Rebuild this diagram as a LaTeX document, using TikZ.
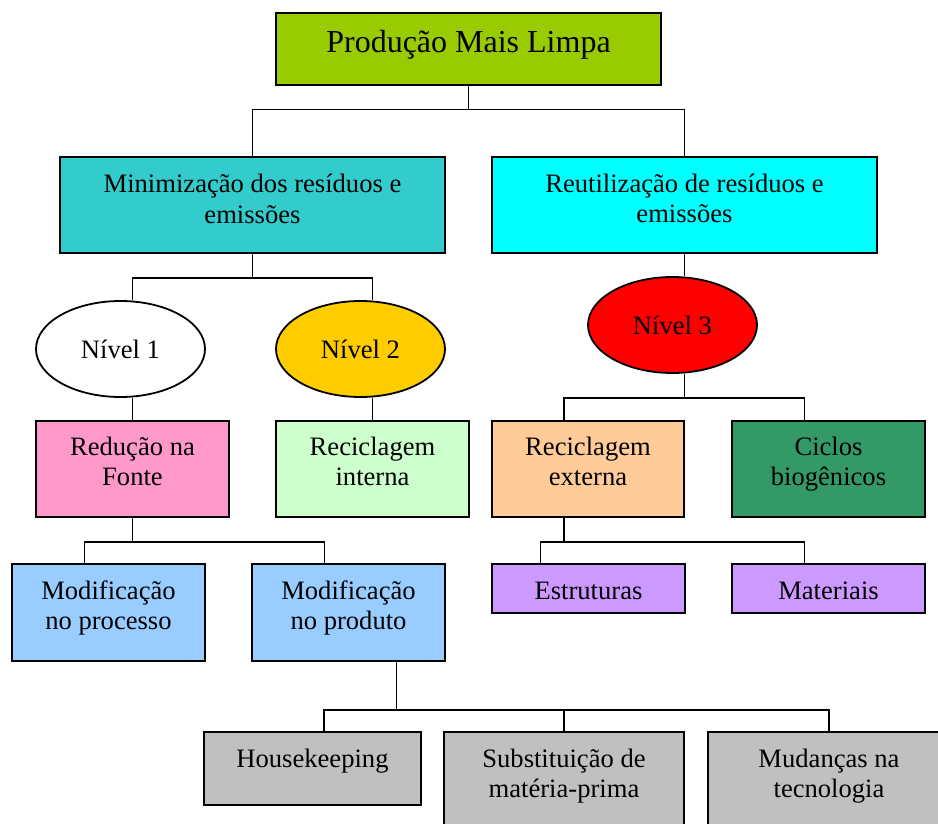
\documentclass[tikz,border=0pt]{standalone}
\usepackage{fontspec}
\setmainfont{Liberation Serif}
\usetikzlibrary{shapes.geometric}
\definecolor{cTop}{HTML}{99CC00}
\definecolor{cMin}{HTML}{33CCCC}
\definecolor{cReu}{HTML}{00FFFF}
\definecolor{cNtwo}{HTML}{FFCC00}
\definecolor{cNthree}{HTML}{FF0000}
\definecolor{cRed}{HTML}{FF99CC}
\definecolor{cRin}{HTML}{CCFFCC}
\definecolor{cRex}{HTML}{FFCC99}
\definecolor{cCic}{HTML}{339966}
\definecolor{cMod}{HTML}{99CCFF}
\definecolor{cLil}{HTML}{CC99FF}
\definecolor{cGry}{HTML}{C0C0C0}
\newcommand{\bodyfnt}{\fontsize{26.6}{30.5}\selectfont}
\newcommand{\titlefnt}{\fontsize{32}{36}\selectfont}
\begin{document}
\begin{tikzpicture}[x=1pt,y=-1pt,
  box/.style={draw=black, line width=1.8pt, rectangle, inner sep=0pt},
  oval/.style={draw=black, line width=1.8pt, ellipse, inner sep=0pt,
    minimum width=169pt, minimum height=96pt, font=\bodyfnt},
  conn/.style={draw=black, line width=1.2pt},
  txt/.style={anchor=north, align=center, inner sep=0pt, font=\bodyfnt},
]
\useasboundingbox (0,0) rectangle (938,824);
\clip (0,0) rectangle (938,824);

% boxes
\node[box, fill=cTop, minimum width=385pt, minimum height=72pt] (top) at (468.5,49) {};
\node[box, fill=cMin, minimum width=385pt, minimum height=96pt] (min) at (252.5,205) {};
\node[box, fill=cReu, minimum width=385pt, minimum height=96pt] (reu) at (684.5,205) {};
\node[oval] (n1) at (120.5,349) {Nível 1};
\node[oval, fill=cNtwo] (n2) at (360.5,349) {Nível 2};
\node[oval, fill=cNthree] (n3) at (672.5,325) {Nível 3};
\node[box, fill=cRed, minimum width=193pt, minimum height=96pt] (red) at (132.5,469) {};
\node[box, fill=cRin, minimum width=193pt, minimum height=96pt] (rin) at (372.5,469) {};
\node[box, fill=cRex, minimum width=192pt, minimum height=96pt] (rex) at (588,469) {};
\node[box, fill=cCic, minimum width=193pt, minimum height=96pt] (cic) at (828.5,469) {};
\node[box, fill=cMod, minimum width=193pt, minimum height=97pt] (mpc) at (108.5,612.5) {};
\node[box, fill=cMod, minimum width=193pt, minimum height=97pt] (mpd) at (348.5,612.5) {};
\node[box, fill=cLil, minimum width=193pt, minimum height=49pt] (est) at (588.5,588.5) {};
\node[box, fill=cLil, minimum width=193pt, minimum height=49pt] (mat) at (828.5,588.5) {};
\node[box, fill=cGry, minimum width=217pt, minimum height=73pt] (hk) at (312.5,768.5) {};
\node[box, fill=cGry, minimum width=240pt, minimum height=120pt] (sub) at (564,792) {};
\node[box, fill=cGry, minimum width=242pt, minimum height=120pt] (mud) at (829,792) {};

% texts (north = first baseline - strut height)
\node[txt, font=\titlefnt] (t-top) at (468.5,26.8) {\strut Produção Mais Limpa};
\node[txt] (t-min) at (252.5,171.2) {\strut Minimização dos resíduos e\\emissões};
\node[txt] (t-reu) at (684.5,170.9) {\strut Reutilização de resíduos e\\emissões};
\node[txt] (t-red) at (132.5,433.7) {\strut Redução na\\Fonte};
\node[txt] (t-rin) at (372.5,433.7) {\strut Reciclagem\\interna};
\node[txt] (t-rex) at (588,433.7) {\strut Reciclagem\\externa};
\node[txt] (t-cic) at (828.5,433.7) {\strut Ciclos\\biogênicos};
\node[txt] (t-mpc) at (108.5,577.7) {\strut Modificação\\no processo};
\node[txt] (t-mpd) at (348.5,577.7) {\strut Modificação\\no produto};
\node[txt] (t-est) at (588.5,577.7) {\strut Estruturas};
\node[txt] (t-mat) at (828.5,577.7) {\strut Materiais};
\node[txt] (t-hk) at (312.5,745.7) {\strut Housekeeping};
\node[txt] (t-sub) at (564,745.7) {\strut Substituição de\\matéria-prima};
\node[txt] (t-mud) at (829,745.7) {\strut Mudanças na\\tecnologia};

% connectors
\draw[conn] (top.south) -- ++(0,24) coordinate (j1);
\draw[conn] (min.north) |- (j1) -| (reu.north);
\draw[conn] (min.south) -- ++(0,24) coordinate (j2);
\draw[conn] (n1.north -| red.north) |- (j2) -| (n2.north -| rin.north);
\draw[conn] (n1.south -| red.north) -- (red.north);
\draw[conn] (n2.south -| rin.north) -- (rin.north);
\draw[conn] (red.south) -- ++(0,24) coordinate (j3);
\draw[conn] ([xshift=-24pt]mpc.north) |- (j3) -| ([xshift=-24pt]mpd.north);
\draw[conn] ([xshift=48pt]mpd.south) -- ++(0,48) coordinate (j4);
\draw[conn] ([xshift=11.5pt]hk.north) |- (j4) -| (mud.north);
\draw[conn] (sub.north) -- (sub.north |- j4);
\draw[conn] (reu.south) -- (reu.south |- n3.north);
\draw[conn] (reu.south |- n3.south) -- ++(0,24) coordinate (j5);
\draw[conn] ([xshift=-24pt]rex.north) |- (j5) -| ([xshift=-24pt]cic.north);
\draw[conn] ([xshift=-24pt]rex.south) -- ++(0,24) coordinate (j6);
\draw[conn] ([xshift=-48pt]est.north) |- (j6) -| ([xshift=-24pt]mat.north);
\end{tikzpicture}
\end{document}
